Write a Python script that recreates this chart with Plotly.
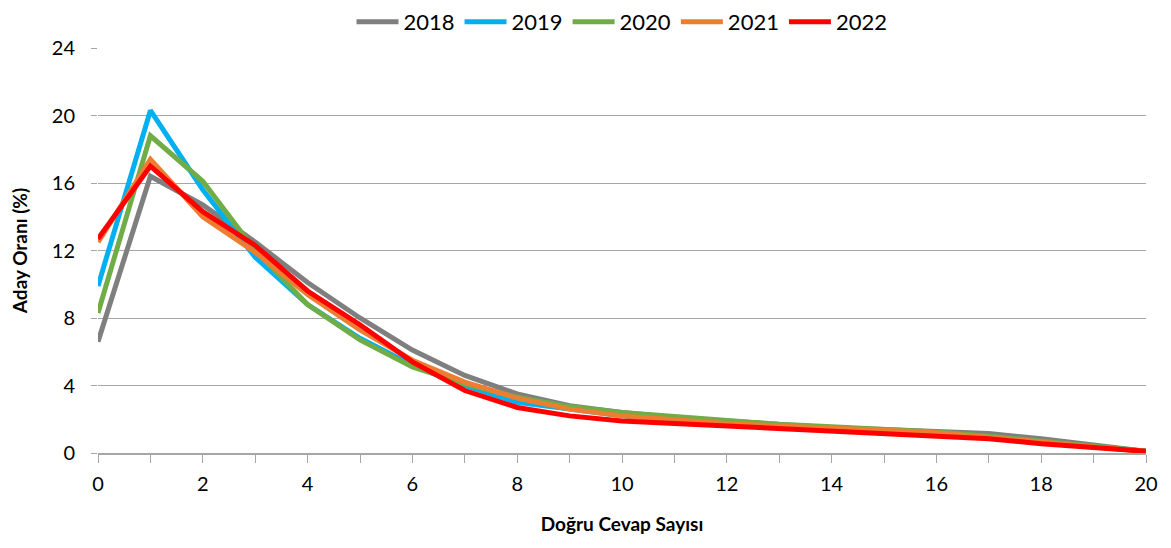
import plotly.graph_objects as go

x_values = list(range(0, 21))
years = ["2018", "2019", "2020", "2021", "2022"]
colors = ["#7F7F7F", "#00B0F0", "#70AD47", "#ED7D31", "#FF0000"]
s2018 = [6.6, 16.4, 14.7, 12.5, 10.1, 8.0, 6.1, 4.6, 3.5, 2.8, 2.4, 2.1, 1.9, 1.7, 1.5, 1.4, 1.3, 1.15, 0.85, 0.5, 0.1]
s2019 = [9.9, 20.3, 15.6, 11.6, 8.8, 6.8, 5.2, 4.0, 3.0, 2.6, 2.2, 2.0, 1.8, 1.65, 1.5, 1.35, 1.2, 0.95, 0.65, 0.35, 0.1]
s2020 = [8.3, 18.8, 16.1, 12.0, 8.8, 6.7, 5.1, 4.1, 3.3, 2.75, 2.4, 2.15, 1.9, 1.7, 1.55, 1.4, 1.25, 1.0, 0.7, 0.4, 0.1]
s2021 = [12.5, 17.4, 14.0, 11.9, 9.4, 7.3, 5.5, 4.2, 3.25, 2.6, 2.2, 1.95, 1.75, 1.6, 1.5, 1.35, 1.2, 0.95, 0.65, 0.35, 0.1]
s2022 = [12.7, 17.0, 14.3, 12.3, 9.6, 7.6, 5.4, 3.7, 2.7, 2.2, 1.9, 1.75, 1.6, 1.45, 1.35, 1.2, 1.05, 0.85, 0.55, 0.3, 0.1]
series = [s2018, s2019, s2020, s2021, s2022]

FONT = "Lato, 'Noto Sans', sans-serif"

fig = go.Figure()
for name, col, ys in zip(years, colors, series):
    fig.add_trace(go.Scatter(x=x_values, y=ys, mode="lines", name=name,
                             line=dict(color=col, width=5)))

fig.update_layout(
    width=1163, height=540,
    margin=dict(l=90, r=25, t=40, b=95, autoexpand=False),
    plot_bgcolor="white", paper_bgcolor="white",
    font=dict(family=FONT, size=20, color="#000000"),
    showlegend=True,
    legend=dict(orientation="h", x=0.5, xanchor="center", y=1.116, yanchor="top",
                font=dict(family=FONT, size=22), itemwidth=42, traceorder="normal",
                bgcolor="rgba(0,0,0,0)"),
    xaxis=dict(range=[0, 20], dtick=2, tick0=0, showgrid=False, zeroline=False,
               showline=True, linecolor="#A6A6A6", linewidth=1.5,
               ticks="outside", ticklen=8, tickcolor="#A6A6A6", ticklabelstandoff=4,
               minor=dict(dtick=1, ticks="outside", ticklen=8, tickcolor="#A6A6A6"),
               tickfont=dict(family=FONT, size=20),
               title=dict(text="<b>Doğru Cevap Sayısı</b>", font=dict(family=FONT, size=19), standoff=24)),
    yaxis=dict(range=[0, 24], dtick=4, showgrid=True, gridcolor="#A6A6A6", gridwidth=1,
               zeroline=False, showline=False, ticks="outside", ticklen=6, tickcolor="#A6A6A6",
               ticklabelstandoff=12,
               tickfont=dict(family=FONT, size=20),
               title=dict(text="<b>Aday Oranı (%)</b>", font=dict(family=FONT, size=19), standoff=22)),
)

fig.write_html("out.html")
